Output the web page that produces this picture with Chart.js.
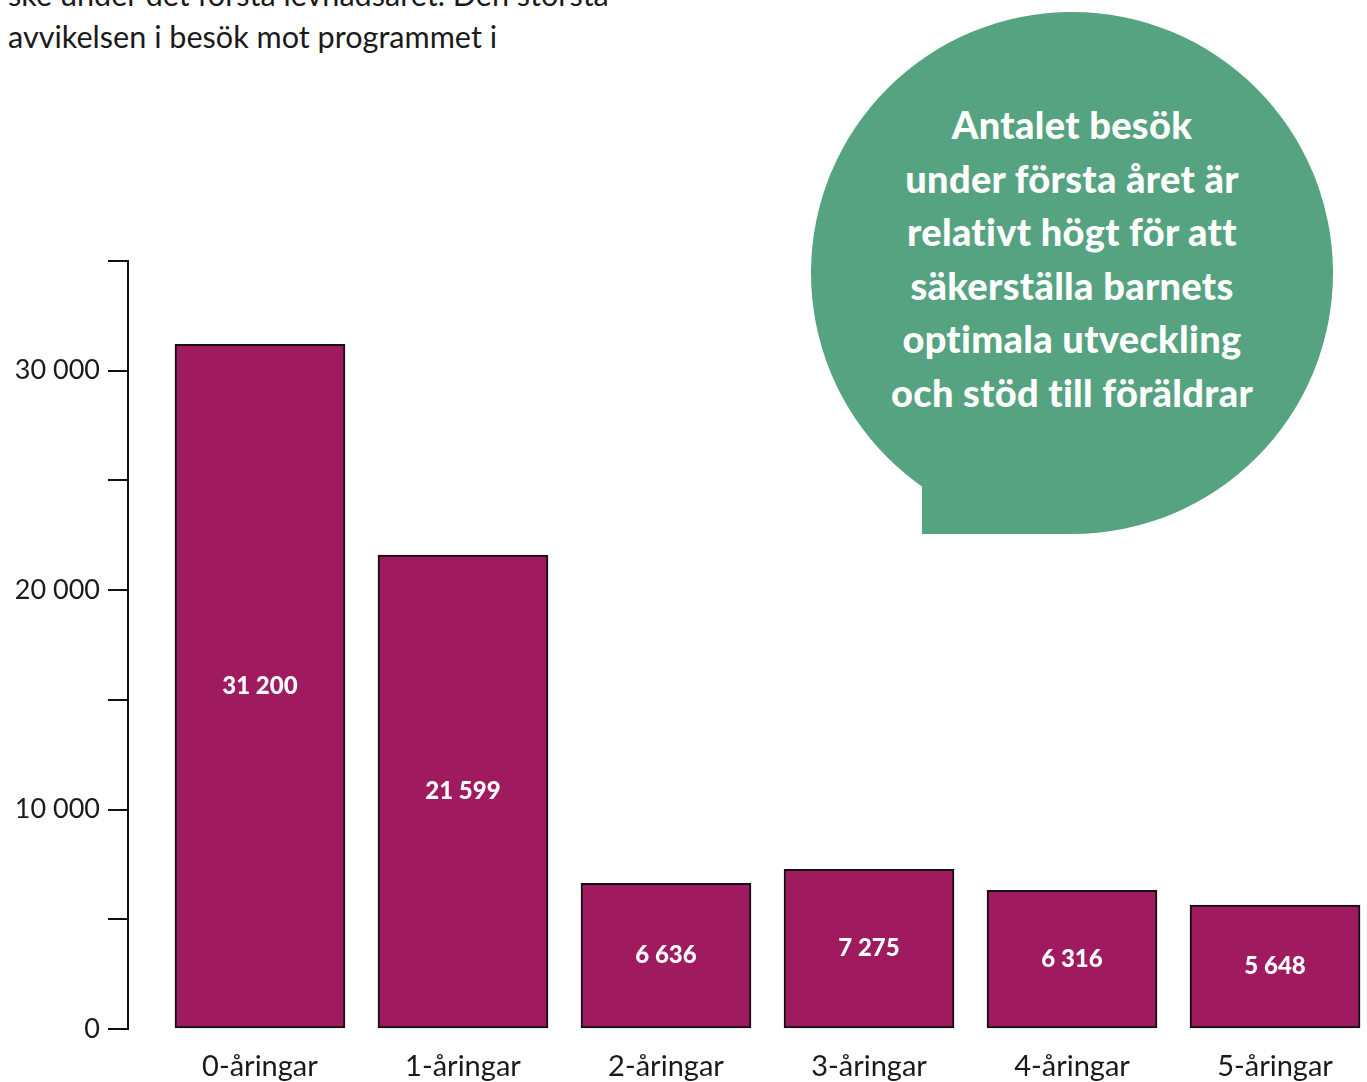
<!DOCTYPE html>
<html lang="sv">
<head>
<meta charset="utf-8">
<script src="https://cdn.jsdelivr.net/npm/chart.js@4/dist/chart.umd.min.js"></script>
<style>
  html, body { margin: 0; padding: 0; background: #fff; overflow: hidden; width: 1367px; height: 1082px; }
  #wrap { position: relative; width: 1367px; height: 1082px; }
  #c { position: absolute; left: 0; top: 0; }
  .intro { position: absolute; left: 8px; top: -26px; font-family: Lato, sans-serif; font-size: 30.6px; line-height: 42px; color: #1a1a1a; white-space: nowrap; }
  .bubble { position: absolute; left: 811px; top: 12px; width: 522px; height: 522px; border-radius: 50%; background: #55A380; }
  .tail { position: absolute; left: 922px; top: 440px; width: 150px; height: 94px; background: #55A380; }
  .bubble-text { position: absolute; left: 811px; top: 98px; width: 522px; text-align: center; font-family: Lato, sans-serif; font-weight: 900; font-size: 38px; line-height: 53.5px; color: #fff; letter-spacing: 0.3px; white-space: nowrap; }
</style>
</head>
<body>
<div id="wrap">
  <div class="intro">ske under det första levnadsåret. Den största<br>avvikelsen i besök mot programmet i</div>
  <canvas id="c" width="1367" height="1082"></canvas>
  <div class="tail"></div>
  <div class="bubble"></div>
  <div class="bubble-text">Antalet besök<br>under första året är<br>relativt högt för att<br>säkerställa barnets<br>optimala utveckling<br>och stöd till föräldrar</div>
</div>
<script>
const categories = ['0-åringar', '1-åringar', '2-åringar', '3-åringar', '4-åringar', '5-åringar'];
const visits = [31200, 21599, 6636, 7275, 6316, 5648];
const labeledYTicks = [0, 10000, 20000, 30000];

function fmt(v) {
  return String(v).replace(/\B(?=(\d{3})+(?!\d))/g, ' ');
}

const valueLabels = {
  id: 'valueLabels',
  afterDatasetsDraw(chart) {
    const ctx = chart.ctx;
    const meta = chart.getDatasetMeta(0);
    ctx.save();
    ctx.fillStyle = '#ffffff';
    ctx.font = '900 24px Lato, sans-serif';
    ctx.textAlign = 'center';
    ctx.textBaseline = 'middle';
    meta.data.forEach((bar, i) => {
      const yMid = (bar.y + bar.base) / 2;
      ctx.fillText(fmt(visits[i]), bar.x, yMid);
    });
    ctx.restore();
  }
};

Chart.defaults.font.family = 'Lato, sans-serif';
Chart.defaults.color = '#1a1a1a';

new Chart(document.getElementById('c'), {
  type: 'bar',
  data: {
    datasets: [{
      data: visits.map((v, i) => ({ x: i, y: v })),
      backgroundColor: '#A01A60',
      borderColor: '#111111',
      borderWidth: 2,
      borderSkipped: false,
      barThickness: 170
    }]
  },
  options: {
    responsive: false,
    animation: false,
    devicePixelRatio: 1,
    layout: { padding: { top: 261, left: 0, right: 0, bottom: 0 } },
    plugins: { legend: { display: false }, tooltip: { enabled: false } },
    scales: {
      x: {
        type: 'linear',
        offset: false,
        min: -0.65,
        max: 5.453,
        grid: { display: false, drawTicks: false },
        border: { display: false },
        ticks: {
          stepSize: 1,
          includeBounds: false,
          autoSkip: false,
          maxRotation: 0,
          padding: 20,
          font: { size: 29 },
          color: '#1a1a1a',
          callback: (v) => (Number.isInteger(v) && categories[v] !== undefined) ? categories[v] : ''
        },
        afterFit: (s) => { s.height = 53; s.paddingLeft = 0; s.paddingRight = 0; }
      },
      y: {
        min: 0,
        max: 35000,
        grid: { drawOnChartArea: false, tickLength: 20, color: '#111111', lineWidth: 2 },
        border: { display: true, color: '#111111', width: 2 },
        ticks: {
          stepSize: 5000,
          padding: 8,
          font: { size: 27 },
          color: '#1a1a1a',
          callback: (v) => labeledYTicks.includes(v) ? fmt(v) : ''
        },
        afterFit: (s) => { s.width = 128; }
      }
    }
  },
  plugins: [valueLabels]
});
</script>
</body>
</html>
